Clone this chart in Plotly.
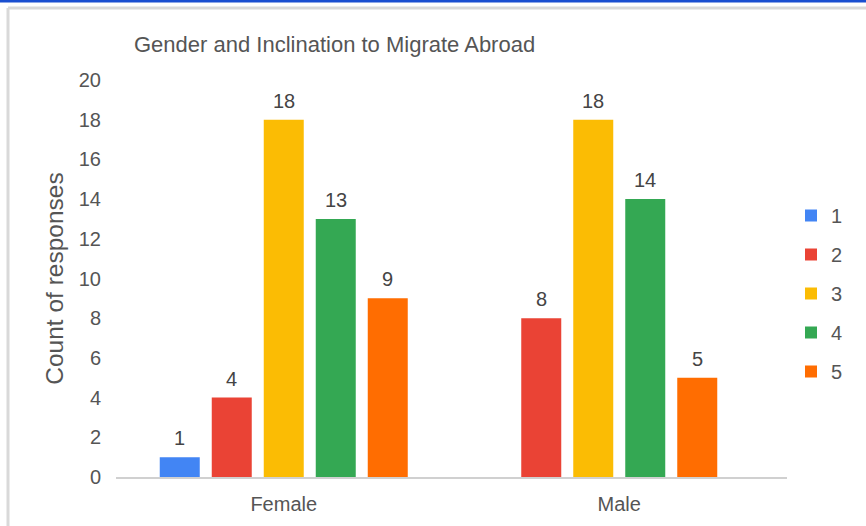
import plotly.graph_objects as go

categories = ["Female", "Male"]
series_names = ["1", "2", "3", "4", "5"]
values_1 = [1, None]
values_2 = [4, 8]
values_3 = [18, 18]
values_4 = [13, 14]
values_5 = [9, 5]
series_values = [values_1, values_2, values_3, values_4, values_5]
colors = ["#4285F4", "#EA4335", "#FBBC04", "#34A853", "#FF6D01"]

W, H = 866, 526
ml, mr, mt, mb = 116, 79, 80, 49
pw, ph = W - ml - mr, H - mt - mb
cat_px = pw / len(categories)

step_px, bw_px = 52, 40
step = step_px / cat_px
bw = bw_px / cat_px

# missing bars are dropped and the remaining bars of that category are centred
present = [[i for i, s in enumerate(series_values) if s[j] is not None] for j in range(len(categories))]

fig = go.Figure()
annotations = []
for i, (name, vals, col) in enumerate(zip(series_names, series_values, colors)):
    xs, ys, offs = [], [], []
    for j, v in enumerate(vals):
        if v is None:
            continue
        n = len(present[j])
        k = present[j].index(i)
        xs.append(categories[j])
        ys.append(v)
        offs.append(-n * step / 2 + k * step + (step - bw) / 2)
        annotations.append(dict(
            x=categories[j], y=v, xref="x", yref="y", text=str(v), showarrow=False,
            xshift=-n * step_px / 2 + k * step_px + step_px / 2, yshift=6, yanchor="bottom",
            font=dict(size=20, color="#444444")))
    fig.add_trace(go.Bar(
        x=xs, y=ys, name=name, marker_color=col, marker_line_width=0,
        offset=offs, width=bw, legendgroup=name, hoverinfo="x+y+name",
    ))

fig.update_layout(
    width=W, height=H,
    margin=dict(l=ml, r=mr, t=mt, b=mb, autoexpand=False),
    barmode="overlay",
    plot_bgcolor="white", paper_bgcolor="white",
    font=dict(family="Arial, Liberation Sans, sans-serif", color="#555555"),
    title=dict(text="Gender and Inclination to Migrate Abroad", x=134 / W, xanchor="left",
               y=1 - 44 / H, yanchor="middle", font=dict(size=22, color="#555555")),
    xaxis=dict(showgrid=False, showline=True, linecolor="#d0d0d0", linewidth=2,
               tickfont=dict(size=20, color="#555555"), ticks="", ticklabelstandoff=8),
    yaxis=dict(range=[0, 20], dtick=2, showgrid=False, zeroline=False,
               tickfont=dict(size=20, color="#555555"), ticklabelstandoff=14,
               title=dict(text="Count of responses", font=dict(size=24.5, color="#555555"), standoff=8)),
    legend=dict(x=(791 - ml) / pw, xanchor="left", y=0.5 + (H / 2 - 278) / ph, yanchor="middle",
                font=dict(size=20, color="#555555"), tracegroupgap=10, itemwidth=30,
                bgcolor="rgba(0,0,0,0)"),
    showlegend=True,
    annotations=annotations,
    shapes=[
        dict(type="line", xref="paper", yref="paper", x0=(0 - ml) / pw, x1=(W - ml) / pw,
             y0=1 + (mt - 1) / ph, y1=1 + (mt - 1) / ph, line=dict(color="#1a4fd0", width=3)),
        dict(type="line", xref="paper", yref="paper", x0=(8 - ml) / pw, x1=(W - ml) / pw,
             y0=1 + (mt - 8) / ph, y1=1 + (mt - 8) / ph, line=dict(color="#d9d9d9", width=3)),
        dict(type="line", xref="paper", yref="paper", x0=(8 - ml) / pw, x1=(8 - ml) / pw,
             y0=1 + (mt - 8) / ph, y1=-(mb + 2) / ph, line=dict(color="#d9d9d9", width=3)),
    ],
)

fig.write_html("out.html", config={"displayModeBar": False},
               post_script="document.body.style.margin='0';document.body.style.overflow='hidden';")
